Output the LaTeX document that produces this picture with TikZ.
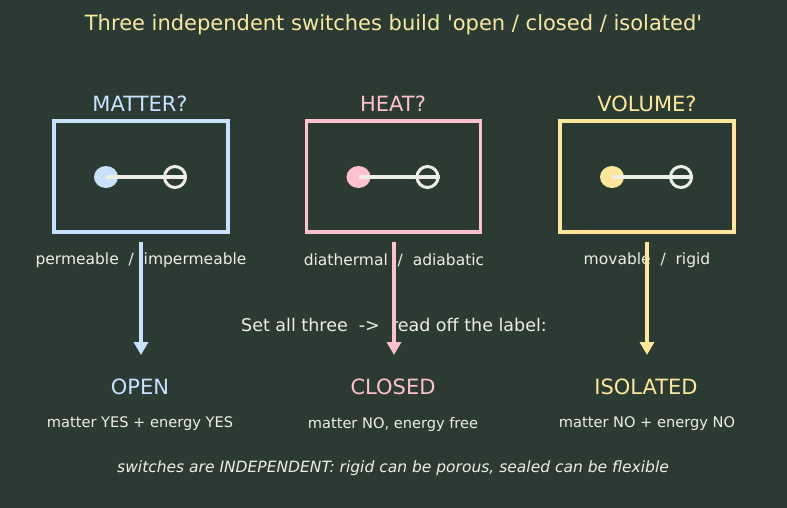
\documentclass[tikz,border=0pt]{standalone}
\usepackage{fontspec}
\setmainfont{DejaVu Sans}[Ligatures=TeXOff]
\usetikzlibrary{arrows.meta,shapes.geometric}
\definecolor{bg}{HTML}{2B3B34}
\definecolor{cblue}{HTML}{C6E2FF}
\definecolor{cpink}{HTML}{FFC0CF}
\definecolor{cyel}{HTML}{FFE79A}
\definecolor{ctitle}{HTML}{F8E8A0}
\definecolor{ctext}{HTML}{EEEEE6}
\tikzset{
  swbox/.style={draw=#1, line width=3.5pt, minimum width=174pt, minimum height=111pt, inner sep=0pt},
  head/.style={text=#1, font=\fontsize{21}{25}\selectfont, inner sep=0pt},
  small/.style={text=ctext, font=\fontsize{15.5}{18}\selectfont, inner sep=0pt},
  desc/.style={text=ctext, font=\fontsize{14.6}{17}\selectfont, inner sep=0pt},
  flow/.style={draw=#1, line width=3.5pt, -{Triangle[length=13pt,width=14pt]}},
  knob/.style={fill=#1, draw=none, ellipse, minimum width=24pt, minimum height=22pt, inner sep=0pt},
  ring/.style={draw=ctext, line width=3pt, circle, minimum size=21pt, inner sep=0pt},
  bar/.style={draw=ctext, line width=3.5pt},
}
\begin{document}
\begin{tikzpicture}[x=1pt,y=-1pt]
\fill[bg] (0,0) rectangle (787,508);
\useasboundingbox (0,0) rectangle (787,508);
\node[text=ctitle, font=\fontsize{21}{25}\selectfont, inner sep=0pt] (title) at (393.5,24.5) {Three independent switches build 'open / closed / isolated'};

% boxes
\node[swbox=cblue] (bm) at (141,176.5) {};
\node[swbox=cpink] (bh) at (393.5,176.5) {};
\node[swbox=cyel] (bv) at (647,176.5) {};

\node[head=cblue] (hm) at (140,104) {MATTER?};
\node[head=cpink] (hh) at (393,104) {HEAT?};
\node[head=cyel] (hv) at (647,104) {VOLUME?};

% switches
\foreach \n/\c/\x in {m/cblue/141, h/cpink/393.5, v/cyel/647}{
  \node[knob=\c] (k\n) at (\x-35,177) {};
  \node[ring] (r\n) at (\x+34,177) {};
  \draw[bar] (k\n.center) -- (r\n.east);
}

% labels
\node[small] (lm) at (141,260) {permeable~~/~~impermeable};
\node[small] (lh) at (394,260) {diathermal~~/~~adiabatic};
\node[small] (lv) at (647,260) {movable~~/~~rigid};

\node[text=ctext, font=\fontsize{17.5}{21}\selectfont, inner sep=0pt] (mid) at (394,325) {Set all three~~->~~read off the label:};

% targets
\node[head=cblue] (om) at (140,387) {OPEN};
\node[head=cpink] (oh) at (393,387) {CLOSED};
\node[head=cyel] (ov) at (646,387) {ISOLATED};

\coordinate (am) at (141,355);
\coordinate (ah) at (394,355);
\coordinate (av) at (647,355);
\draw[flow=cblue] (bm.south) ++(0,8) -- (am);
\draw[flow=cpink] (bh.south) ++(0.5,8) -- (ah);
\draw[flow=cyel] (bv.south) ++(0,8) -- (av);

\node[desc] (dm) at (140,424) {matter YES + energy YES};
\node[desc] (dh) at (393,424) {matter NO, energy free};
\node[desc] (dv) at (647,424) {matter NO + energy NO};

\node[text=ctext, font=\fontsize{15.5}{18}\selectfont\itshape, inner sep=0pt] (foot) at (393,468) {switches are INDEPENDENT: rigid can be porous, sealed can be flexible};
\end{tikzpicture}
\end{document}
